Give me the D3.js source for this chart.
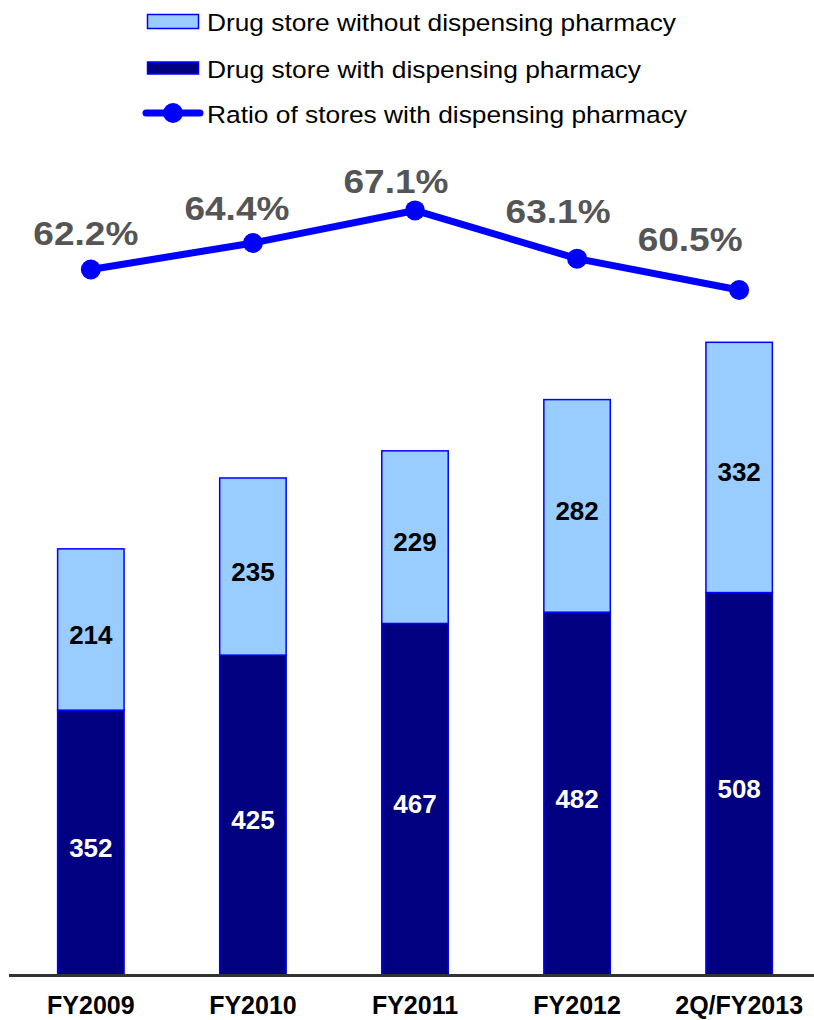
<!DOCTYPE html>
<html>
<head>
<meta charset="utf-8">
<script src="https://cdn.jsdelivr.net/npm/d3@7"></script>
<style>
  html, body { margin: 0; padding: 0; background: #fff; }
  svg { display: block; }
  text { font-family: Arial, "Liberation Sans", sans-serif; }
</style>
</head>
<body>
<svg id="chart" width="814" height="1020"></svg>
<script>
// Store counts per fiscal period
const categories = ["FY2009", "FY2010", "FY2011", "FY2012", "2Q/FY2013"];
const withPharmacy = [352, 425, 467, 482, 508];
const withoutPharmacy = [214, 235, 229, 282, 332];
const ratioWithPharmacy = [0.622, 0.644, 0.671, 0.631, 0.605];
const ratioLabels = ["62.2%", "64.4%", "67.1%", "63.1%", "60.5%"];

const seriesNames = [
  "Drug store without dispensing pharmacy",
  "Drug store with dispensing pharmacy",
  "Ratio of stores with dispensing pharmacy"
];

const LIGHT = "#99CCFF", DARK = "#000080", BLUE = "#0000FF";

const svg = d3.select("#chart");

const x = d3.scaleBand()
  .domain(categories)
  .range([9, 821])
  .paddingInner(0.59)
  .paddingOuter(0.3);

const y = d3.scaleLinear().domain([0, 1000]).range([975.5, 221.7]);

// secondary scale for the ratio line
const yRatio = d3.scaleLinear().domain([0.6, 0.7]).range([296, 175.5]);

const rows = categories.map((c, i) => ({
  cat: c,
  dark: withPharmacy[i],
  light: withoutPharmacy[i],
  ratio: ratioWithPharmacy[i],
  label: ratioLabels[i]
}));

// stacked bars
const bars = svg.append("g");
bars.selectAll("rect.dark").data(rows).join("rect")
  .attr("class", "dark")
  .attr("x", d => x(d.cat))
  .attr("width", x.bandwidth())
  .attr("y", d => y(d.dark))
  .attr("height", d => y(0) - y(d.dark))
  .attr("fill", DARK)
  .attr("stroke", BLUE)
  .attr("stroke-width", 1.5);

bars.selectAll("rect.light").data(rows).join("rect")
  .attr("class", "light")
  .attr("x", d => x(d.cat))
  .attr("width", x.bandwidth())
  .attr("y", d => y(d.dark + d.light))
  .attr("height", d => y(d.dark) - y(d.dark + d.light))
  .attr("fill", LIGHT)
  .attr("stroke", BLUE)
  .attr("stroke-width", 1.5);

// segment value labels
bars.selectAll("text.darkv").data(rows).join("text")
  .attr("class", "darkv")
  .attr("x", d => x(d.cat) + x.bandwidth() / 2)
  .attr("y", d => (y(0) + y(d.dark)) / 2 + 14)
  .attr("text-anchor", "middle")
  .attr("font-size", 26).attr("font-weight", "bold")
  .attr("fill", "#fff")
  .text(d => d.dark);

bars.selectAll("text.lightv").data(rows).join("text")
  .attr("class", "lightv")
  .attr("x", d => x(d.cat) + x.bandwidth() / 2)
  .attr("y", d => (y(d.dark) + y(d.dark + d.light)) / 2 + 14)
  .attr("text-anchor", "middle")
  .attr("font-size", 26).attr("font-weight", "bold")
  .attr("fill", "#000")
  .text(d => d.light);

// baseline axis
const xAxis = svg.append("g")
  .attr("transform", `translate(0,${y(0)})`)
  .call(d3.axisBottom(x).tickSize(0).tickPadding(25));
xAxis.select(".domain").attr("d", "M9,0H814").attr("stroke", "#333").attr("stroke-width", 3);
xAxis.selectAll(".tick text")
  .attr("font-size", 25).attr("font-weight", "bold")
  .attr("font-family", "Arial, 'Liberation Sans', sans-serif")
  .attr("fill", "#000")
  .attr("dy", "0.55em");

// ratio line
const cx = d => x(d.cat) + x.bandwidth() / 2;
svg.append("path")
  .datum(rows)
  .attr("d", d3.line().x(cx).y(d => yRatio(d.ratio)))
  .attr("fill", "none")
  .attr("stroke", BLUE)
  .attr("stroke-width", 7)
  .attr("stroke-linejoin", "round");

svg.selectAll("circle.pt").data(rows).join("circle")
  .attr("class", "pt")
  .attr("cx", cx)
  .attr("cy", d => yRatio(d.ratio))
  .attr("r", 10)
  .attr("fill", BLUE);

// percentage labels, nudged individually
const labelShiftX = [-5, -16, -19, -19, -49];
const labelShiftY = [-24, -23, -17, -36, -39];
svg.selectAll("text.pct").data(rows).join("text")
  .attr("class", "pct")
  .attr("x", (d, i) => cx(d) + labelShiftX[i])
  .attr("y", (d, i) => yRatio(d.ratio) + labelShiftY[i])
  .attr("text-anchor", "middle")
  .attr("font-size", 33).attr("font-weight", "bold")
  .attr("fill", "#555555")
  .attr("textLength", 105)
  .attr("lengthAdjust", "spacingAndGlyphs")
  .text(d => d.label);

// legend
const legend = svg.append("g");
const legendRowY = [21.5, 68, 113];
const legendTextLen = [469, 434, 480];

legend.append("rect")
  .attr("x", 147.5).attr("y", legendRowY[0] - 7)
  .attr("width", 51).attr("height", 14)
  .attr("fill", LIGHT).attr("stroke", BLUE).attr("stroke-width", 1.5);
legend.append("rect")
  .attr("x", 147.5).attr("y", legendRowY[1] - 6)
  .attr("width", 51).attr("height", 12)
  .attr("fill", DARK).attr("stroke", BLUE).attr("stroke-width", 1.5);
legend.append("line")
  .attr("x1", 146).attr("x2", 200)
  .attr("y1", legendRowY[2]).attr("y2", legendRowY[2])
  .attr("stroke", BLUE).attr("stroke-width", 7).attr("stroke-linecap", "round");
legend.append("circle")
  .attr("cx", 173).attr("cy", legendRowY[2]).attr("r", 10).attr("fill", BLUE);

legend.selectAll("text").data(seriesNames).join("text")
  .attr("x", 207)
  .attr("y", (d, i) => legendRowY[i] + 9.5)
  .attr("font-size", 24.5)
  .attr("fill", "#000")
  .attr("textLength", (d, i) => legendTextLen[i])
  .attr("lengthAdjust", "spacingAndGlyphs")
  .text(d => d);
</script>
</body>
</html>
